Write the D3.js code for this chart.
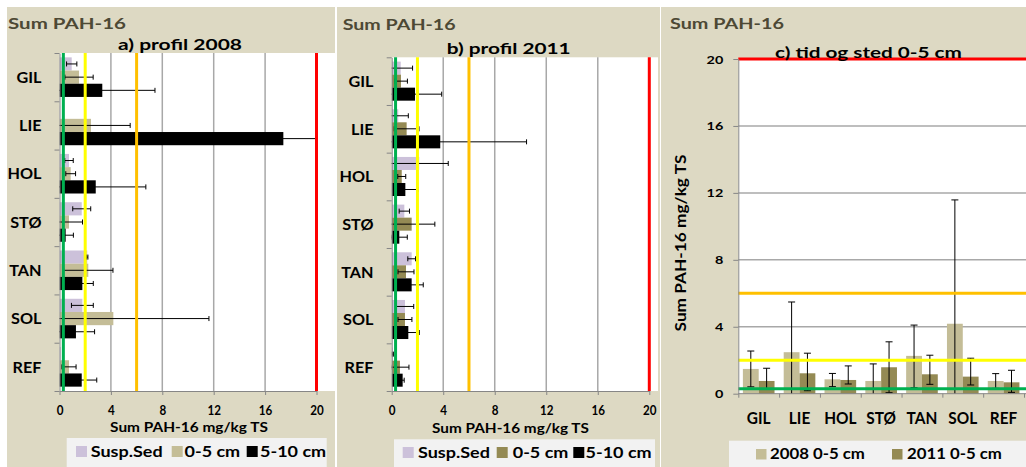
<!DOCTYPE html>
<html><head><meta charset="utf-8">
<script src="https://cdn.jsdelivr.net/npm/d3@7"></script>
<style>
body{margin:0;background:#fff}
svg{display:block}
text{font-family:Lato,'Open Sans',sans-serif;font-weight:700}
</style>
</head><body>
<svg id="chart" width="1026" height="467"></svg>
<script>
// ---------------- DATA ----------------
const categories = ["GIL","LIE","HOL","STØ","TAN","SOL","REF"];
const xTicks = [0,4,8,12,16,20];
const yTicksC = [0,4,8,12,16,20];
const refLines = [0.3, 2, 6, 20];            // green, yellow, orange, red
const seriesNamesAB = ["Susp.Sed","0-5 cm","5-10 cm"];
const seriesNamesC = ["2008 0-5 cm","2011 0-5 cm"];

// a) profil 2008
const a_susp      = [0.95, 0.05, 0.74, 1.73, 2.16, 1.78, 0.10];
const a_susp_err  = [0.40, 0.00, 0.33, 0.70, 0.05, 0.85, 0.00];
const a_05        = [1.52, 2.45, 0.87, 0.74, 2.24, 4.19, 0.74];
const a_05_err    = [1.10, 3.05, 0.38, 1.05, 1.92, 7.44, 0.55];
const a_510       = [3.33, 17.42, 2.82, 0.48, 1.78, 1.28, 1.73];
const a_510_err   = [4.10, 2.58, 3.90, 0.60, 0.85, 1.45, 1.17];

// b) profil 2011
const b_susp      = [0.70, 0.51, 2.14, 0.98, 1.55, 1.03, 0.08];
const b_susp_err  = [0.92, 0.78, 2.25, 0.40, 0.30, 0.68, 0.05];
const b_05        = [0.72, 1.16, 0.78, 1.55, 1.11, 1.03, 0.64];
const b_05_err    = [0.50, 0.96, 0.31, 1.80, 0.62, 0.54, 0.70];
const b_510       = [1.81, 3.77, 1.06, 0.59, 1.55, 1.29, 0.85];
const b_510_err   = [2.07, 6.70, 1.00, 0.62, 0.90, 0.85, 0.12];

// c) tid og sted 0-5 cm
const c_2008          = [1.48, 2.48, 0.86, 0.76, 2.26, 4.18, 0.76];
const c_2008_errPlus  = [1.07, 3.00, 0.35, 1.02, 1.84, 7.40, 0.44];
const c_2008_errMinus = [1.07, 3.00, 0.44, 1.02, 1.90, 4.18, 0.44];
const c_2011          = [0.76, 1.22, 0.82, 1.58, 1.16, 1.02, 0.68];
const c_2011_errPlus  = [0.76, 1.20, 0.84, 1.52, 1.14, 1.10, 0.72];
const c_2011_errMinus = [0.45, 1.04, 0.24, 1.52, 0.60, 0.50, 0.60];

// ---------------- STYLE ----------------
const BEIGE = "#ddd9c3", HEAD = "#4d4935", AXIS = "#868686", GRID = "#a8a8a8", LEG = "#f2f2f2";
const SUSP = "#ccc1da", TAN = "#c4bd97", OLIVE = "#948a54", BLACK = "#000000";
const refColors = ["#00b050", "#ffff00", "#ffc000", "#ff0000"];

const svg = d3.select("#chart");

function measure(str, size) {
  const t = svg.append("text").attr("font-size", size).text(str);
  const w = t.node().getComputedTextLength();
  t.remove();
  return w;
}
function addText(parent, str, x, y, size, anchor, sx, fill) {
  return parent.append("text").text(str)
    .attr("font-size", size).attr("text-anchor", anchor || "start")
    .attr("fill", fill || "#000")
    .attr("transform", `translate(${x},${y}) scale(${sx},1)`);
}
function fitText(parent, str, x, y, size, anchor, w, fill) {
  return addText(parent, str, x, y, size, anchor, w / measure(str, size), fill);
}

// ---------------- PANELS a & b ----------------
function hPanel(o) {
  const g = svg.append("g");
  g.append("rect").attr("x", o.bx).attr("y", 7).attr("width", o.bw).attr("height", 460).attr("fill", BEIGE);
  fitText(g, "Sum PAH-16", o.head.x, o.head.y, 15.5, "start", o.head.w, HEAD);

  const x = d3.scaleLinear().domain([0, 20]).range([o.x0, o.x20]);
  const y = d3.scaleBand().domain(categories).range([o.top, o.bottom]);
  const sub = d3.scaleBand().domain(d3.range(o.series.length)).range([0, y.bandwidth()]).paddingOuter(0.33);

  g.append("rect").attr("x", o.x0).attr("y", o.top).attr("width", o.plotRight - o.x0)
    .attr("height", o.bottom - o.top).attr("fill", "#fff");

  // gridlines
  g.append("g").selectAll("line").data(xTicks.filter(d => d > 0 && d < 20)).join("line")
    .attr("x1", d => x(d)).attr("x2", d => x(d)).attr("y1", o.top).attr("y2", o.bottom)
    .attr("stroke", GRID).attr("stroke-width", 1.5);

  const clipId = "clip" + o.id;
  g.append("clipPath").attr("id", clipId).append("rect")
    .attr("x", o.x0).attr("y", o.top).attr("width", o.plotRight - o.x0).attr("height", o.bottom - o.top);
  const pg = g.append("g").attr("clip-path", `url(#${clipId})`);

  o.series.forEach((s, i) => {
    pg.append("g").selectAll("rect").data(s.vals).join("rect")
      .attr("x", x(0)).attr("y", (d, j) => y(categories[j]) + sub(i))
      .attr("width", d => x(d) - x(0)).attr("height", sub.bandwidth())
      .attr("fill", s.color);
  });
  o.series.forEach((s, i) => {
    const eg = pg.append("g").attr("stroke", "#000").attr("stroke-width", 1);
    s.vals.forEach((v, j) => {
      const e = s.err[j];
      if (e <= 0) return;
      const cy = y(categories[j]) + sub(i) + sub.bandwidth() / 2;
      const xl = x(v - e), xr = x(v + e);
      eg.append("line").attr("x1", xl).attr("x2", xr).attr("y1", cy).attr("y2", cy);
      eg.append("line").attr("x1", xl).attr("x2", xl).attr("y1", cy - 2.5).attr("y2", cy + 2.5);
      eg.append("line").attr("x1", xr).attr("x2", xr).attr("y1", cy - 2.5).attr("y2", cy + 2.5);
    });
  });

  // reference lines
  g.append("g").selectAll("line").data(refLines).join("line")
    .attr("x1", d => x(d)).attr("x2", d => x(d)).attr("y1", o.top).attr("y2", o.bottom)
    .attr("stroke", (d, i) => refColors[i]).attr("stroke-width", 3);

  // x axis
  const tsx = 13.5 / measure("20", 12.5);
  const ax = g.append("g").attr("transform", `translate(0,${o.bottom})`)
    .call(d3.axisBottom(x).tickValues(xTicks).tickSize(4).tickSizeOuter(0));
  ax.select(".domain").attr("stroke", AXIS);
  ax.selectAll(".tick line").attr("stroke", AXIS);
  ax.selectAll(".tick text").attr("y", null).attr("dy", null).attr("font-size", 12.5).attr("fill", "#000")
    .attr("transform", `translate(0,${o.tickBase - o.bottom}) scale(${tsx},1)`);

  // y axis (band boundaries) + category labels
  const yb = d3.scaleLinear().domain([0, categories.length]).range([o.top, o.bottom]);
  const ay = g.append("g").attr("transform", `translate(${o.x0},0)`)
    .call(d3.axisLeft(yb).ticks(categories.length).tickFormat("").tickSize(5).tickSizeOuter(0));
  ay.select(".domain").attr("stroke", AXIS);
  ay.selectAll(".tick line").attr("stroke", AXIS);

  const lsx = 34 / measure("HOL", 16);
  categories.forEach(c => {
    addText(g, c, o.labelRight, y(c) + y.bandwidth() / 2 + 5.7, 16, "end", lsx);
  });

  // titles
  fitText(g, o.title.str, o.title.cx, o.title.y, 16, "middle", o.title.w);
  fitText(g, "Sum PAH-16 mg/kg TS", o.axTitle.cx, o.axTitle.y, 13.3, "middle", o.axTitle.w);

  // legend
  const L = o.legend;
  g.append("rect").attr("x", L.x).attr("y", L.y).attr("width", L.w).attr("height", 467 - L.y).attr("fill", LEG);
  const gsx = 72 / measure("Susp.Sed", 16);
  seriesNamesAB.forEach((n, i) => {
    g.append("rect").attr("x", L.sq[i]).attr("y", L.sqY).attr("width", 11).attr("height", 11).attr("fill", o.series[i].color);
    addText(g, n, L.tx[i], L.base, 16, "start", gsx);
  });
}

hPanel({
  id: "a", bx: 7, bw: 328,
  head: {x: 8, y: 29, w: 118},
  title: {str: "a) profil 2008", cx: 180, y: 50, w: 124},
  x0: 59.5, x20: 316.5, top: 53, bottom: 391, plotRight: 335, labelRight: 41.5, tickBase: 415,
  axTitle: {cx: 189, y: 432, w: 158},
  legend: {x: 66.7, y: 438, w: 260, sq: [76, 171.7, 246.7], tx: [90.7, 184.5, 260], sqY: 446, base: 456.5},
  series: [
    {vals: a_susp, err: a_susp_err, color: SUSP},
    {vals: a_05, err: a_05_err, color: TAN},
    {vals: a_510, err: a_510_err, color: BLACK}
  ]
});

hPanel({
  id: "b", bx: 337, bw: 323,
  head: {x: 342.7, y: 30, w: 113},
  title: {str: "b) profil 2011", cx: 508.7, y: 54, w: 124},
  x0: 391.7, x20: 649.3, top: 57.3, bottom: 391, plotRight: 658, labelRight: 373.5, tickBase: 415,
  axTitle: {cx: 510.5, y: 433, w: 157},
  legend: {x: 394, y: 439.3, w: 261, sq: [402.7, 496.7, 573.3], tx: [418, 512.7, 585.5], sqY: 447, base: 457.5},
  series: [
    {vals: b_susp, err: b_susp_err, color: SUSP},
    {vals: b_05, err: b_05_err, color: OLIVE},
    {vals: b_510, err: b_510_err, color: BLACK}
  ]
});

// ---------------- PANEL c ----------------
(function () {
  const g = svg.append("g");
  const left = 738.3, right = 1024, top = 59, bottom = 393.7;
  g.append("rect").attr("x", 661).attr("y", 7).attr("width", 365).attr("height", 460).attr("fill", BEIGE);
  fitText(g, "Sum PAH-16", 670, 29.3, 15.5, "start", 114, HEAD);

  const y = d3.scaleLinear().domain([0, 20]).range([bottom, top]);
  const x = d3.scaleBand().domain(categories).range([left, right]);
  const sub = d3.scaleBand().domain([0, 1]).range([0, x.bandwidth()]).paddingOuter(0.29);

  g.append("rect").attr("x", left).attr("y", top).attr("width", 1026 - left).attr("height", bottom - top).attr("fill", "#fff");

  g.append("g").selectAll("line").data(yTicksC.filter(d => d > 0 && d < 20)).join("line")
    .attr("x1", left).attr("x2", 1026).attr("y1", d => y(d)).attr("y2", d => y(d))
    .attr("stroke", GRID).attr("stroke-width", 1.5);

  const series = [
    {vals: c_2008, ep: c_2008_errPlus, em: c_2008_errMinus, color: TAN},
    {vals: c_2011, ep: c_2011_errPlus, em: c_2011_errMinus, color: OLIVE}
  ];
  series.forEach((s, i) => {
    g.append("g").selectAll("rect").data(s.vals).join("rect")
      .attr("x", (d, j) => x(categories[j]) + sub(i)).attr("y", d => y(d))
      .attr("width", sub.bandwidth()).attr("height", d => y(0) - y(d)).attr("fill", s.color);
  });
  series.forEach((s, i) => {
    const eg = g.append("g").attr("stroke", "#000").attr("stroke-width", 1);
    s.vals.forEach((v, j) => {
      const cx = x(categories[j]) + sub(i) + sub.bandwidth() / 2;
      const yt = y(v + s.ep[j]), yl = y(Math.max(0, v - s.em[j]));
      eg.append("line").attr("x1", cx).attr("x2", cx).attr("y1", yt).attr("y2", yl);
      eg.append("line").attr("x1", cx - 3.5).attr("x2", cx + 3.5).attr("y1", yt).attr("y2", yt);
      if (v - s.em[j] > 0) eg.append("line").attr("x1", cx - 3.5).attr("x2", cx + 3.5).attr("y1", yl).attr("y2", yl);
    });
  });

  g.append("g").selectAll("line").data(refLines).join("line")
    .attr("x1", left).attr("x2", 1026).attr("y1", d => y(d)).attr("y2", d => y(d))
    .attr("stroke", (d, i) => refColors[i]).attr("stroke-width", 3);

  // y axis
  const tsx = 16.7 / measure("20", 11);
  const ay = g.append("g").attr("transform", `translate(${left},0)`)
    .call(d3.axisLeft(y).tickValues(yTicksC).tickSize(5).tickSizeOuter(0));
  ay.select(".domain").attr("stroke", AXIS);
  ay.selectAll(".tick line").attr("stroke", AXIS);
  ay.selectAll(".tick text").attr("x", null).attr("dy", null).attr("font-size", 11).attr("fill", "#000")
    .attr("text-anchor", "end").attr("transform", `translate(-15,4) scale(${tsx},1)`);

  // x axis
  const xb = d3.scaleLinear().domain([0, categories.length]).range([left, right]);
  const ax = g.append("g").attr("transform", `translate(0,${bottom})`)
    .call(d3.axisBottom(xb).ticks(categories.length).tickFormat("").tickSize(4).tickSizeOuter(0));
  ax.select(".domain").attr("stroke", AXIS).attr("d", `M${left},0H1026`);
  ax.selectAll(".tick line").attr("stroke", AXIS);
  const csx = 32.3 / measure("HOL", 16.3);
  categories.forEach(c => addText(g, c, x(c) + x.bandwidth() / 2, 423.5, 16.3, "middle", csx));

  // title over plot
  fitText(g, "c) tid og sted 0-5 cm", 868.5, 57.5, 16, "middle", 187);

  // y title
  const yt = g.append("text").text("Sum PAH-16 mg/kg TS").attr("font-size", 14.3).attr("text-anchor", "middle");
  const w = yt.node().getComputedTextLength();
  yt.attr("transform", `translate(686,243) rotate(-90) scale(${177 / w},1)`);

  // legend
  g.append("rect").attr("x", 729).attr("y", 440.7).attr("width", 1026 - 729).attr("height", 467 - 440.7).attr("fill", LEG);
  const gsx = 95 / measure("2008 0-5 cm", 14.5);
  const sq = [756, 892], tx = [770, 907];
  seriesNamesC.forEach((n, i) => {
    g.append("rect").attr("x", sq[i]).attr("y", 449).attr("width", 10.5).attr("height", 10.5).attr("fill", series[i].color);
    addText(g, n, tx[i], 459, 14.5, "start", gsx);
  });
})();
</script>
</body></html>
